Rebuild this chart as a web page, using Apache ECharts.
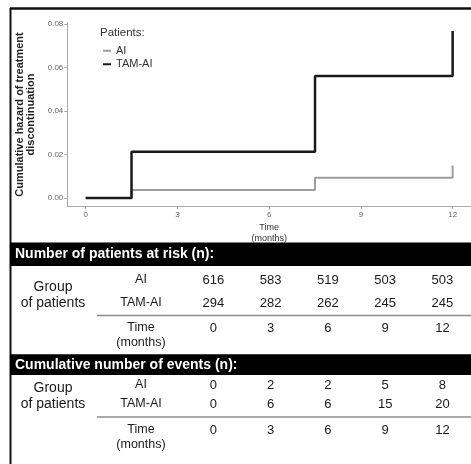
<!DOCTYPE html>
<html><head><meta charset="utf-8">
<script src="https://cdn.jsdelivr.net/npm/echarts@6/dist/echarts.min.js"></script>
<style>html,body{margin:0;padding:0;background:#fff}#c{width:471px;height:464px}</style>
</head><body><div id="c"></div>
<script>
// Chart data (cumulative hazard step functions)
const timePoints = [0, 1.5, 7.5, 12];
const hazardAI = [0, 0.0037, 0.0093, 0.0149];
const hazardTAM = [0, 0.0213, 0.0561, 0.0768];
const xTicks = [0, 3, 6, 9, 12];
const yTicks = [0, 0.02, 0.04, 0.06, 0.08];
// Table data
const groups = ['AI', 'TAM-AI'];
const tableTimes = ['0', '3', '6', '9', '12'];
const riskAI = [616, 583, 519, 503, 503];
const riskTAM = [294, 282, 262, 245, 245];
const eventsAI = [0, 2, 2, 5, 8];
const eventsTAM = [0, 6, 6, 15, 20];

const FONT = "'Liberation Sans', Arial, sans-serif";
const chart = echarts.init(document.getElementById('c'), null, {renderer: 'canvas'});

function tableSeries(idx, rowA, rowB) {
  const data = [];
  rowA.forEach((v, i) => data.push([i, 0, v]));
  rowB.forEach((v, i) => data.push([i, 1, v]));
  return {
    type: 'scatter', xAxisIndex: idx, yAxisIndex: idx, data: data,
    symbolSize: 2, itemStyle: {color: '#fff', opacity: 1}, silent: true, z: 1,
    label: {show: true, position: 'inside', formatter: p => String(p.value[2]),
      fontFamily: FONT, fontSize: 13, color: '#1a1a1a', opacity: 1,
      textBorderWidth: 0, textBorderColor: 'transparent'}
  };
}
function tableX(idx, margin) {
  return {type: 'category', gridIndex: idx, data: tableTimes, boundaryGap: true,
    axisLine: {show: false}, axisTick: {show: false}, splitLine: {show: false},
    axisLabel: {fontFamily: FONT, fontSize: 13, color: '#1a1a1a', margin: margin}};
}
function tableY(idx) {
  return {type: 'category', gridIndex: idx, data: groups, inverse: true,
    axisLine: {show: false}, axisTick: {show: false}, splitLine: {show: false},
    axisLabel: {fontFamily: FONT, fontSize: 12.5, color: '#1a1a1a', align: 'center', margin: 43.8}};
}

const option = {
  animation: false,
  backgroundColor: '#fff',
  grid: [
    {left: 67.3, right: -7.7, top: 22.7, height: 183.6},
    {left: 184.8, right: 0, top: 268.5, height: 46},
    {left: 184.8, right: 0, top: 375.5, height: 38}
  ],
  legend: {
    left: 98, top: 40, orient: 'vertical', itemGap: 2,
    itemWidth: 8, itemHeight: 2, icon: 'rect',
    data: ['AI', 'TAM-AI'],
    textStyle: {fontFamily: FONT, fontSize: 11, color: '#333', lineHeight: 11.5}
  },
  xAxis: [
    {type: 'value', gridIndex: 0, min: -0.6, max: 12.6,
      axisLine: {show: true, onZero: false, lineStyle: {color: '#aaa', width: 1}},
      axisTick: {show: true, length: 3, customValues: xTicks, lineStyle: {color: '#aaa'}},
      axisLabel: {customValues: xTicks, fontFamily: FONT, fontSize: 8, color: '#666', margin: 4},
      splitLine: {show: false},
      name: 'Time\n(months)', nameLocation: 'middle', nameGap: 16,
      nameTextStyle: {fontFamily: FONT, fontSize: 9, color: '#333', lineHeight: 11, verticalAlign: 'top'}},
    tableX(1, 7), tableX(2, 10)
  ],
  yAxis: [
    {type: 'value', gridIndex: 0, min: -0.0038, max: 0.0806,
      axisLine: {show: true, onZero: false, lineStyle: {color: '#aaa', width: 1}},
      axisTick: {show: true, length: 3, customValues: yTicks, lineStyle: {color: '#aaa'}},
      axisLabel: {customValues: yTicks, formatter: v => v.toFixed(2), fontFamily: FONT, fontSize: 8, color: '#666', margin: 4},
      splitLine: {show: false},
      name: 'Cumulative hazard of treatment\ndiscontinuation', nameLocation: 'middle', nameGap: 28, nameRotate: 90,
      nameTextStyle: {fontFamily: FONT, fontSize: 11, fontWeight: 'bold', color: '#222', lineHeight: 11}},
    tableY(1), tableY(2)
  ],
  series: [
    {name: 'AI', type: 'line', step: 'end', symbol: 'none', xAxisIndex: 0, yAxisIndex: 0,
      data: timePoints.map((t, i) => [t, hazardAI[i]]),
      lineStyle: {color: '#9e9e9e', width: 2}, itemStyle: {color: '#9e9e9e'}},
    {name: 'TAM-AI', type: 'line', step: 'end', symbol: 'none', xAxisIndex: 0, yAxisIndex: 0,
      data: timePoints.map((t, i) => [t, hazardTAM[i]]),
      lineStyle: {color: '#1a1a1a', width: 2.5}, itemStyle: {color: '#1a1a1a'}},
    tableSeries(1, riskAI, riskTAM),
    tableSeries(2, eventsAI, eventsTAM)
  ],
  graphic: [
    {type: 'text', left: 100, top: 27, style: {text: 'Patients:', fontFamily: FONT, fontSize: 11.5, fill: '#333'}},
    // frame
    {type: 'line', shape: {x1: 10.5, y1: 8, x2: 10.5, y2: 464}, style: {stroke: '#111', lineWidth: 2}},
    {type: 'line', shape: {x1: 10, y1: 8.5, x2: 471, y2: 8.5}, style: {stroke: '#111', lineWidth: 2.5}},
    // banners
    {type: 'rect', shape: {x: 10, y: 242.5, width: 461, height: 23.5}, style: {fill: '#000'}},
    {type: 'text', x: 15, y: 254.5, style: {text: 'Number of patients at risk (n):', fontFamily: FONT, fontSize: 14, fontWeight: 'bold', fill: '#fff', verticalAlign: 'middle'}},
    {type: 'rect', shape: {x: 10, y: 354.3, width: 461, height: 20.7}, style: {fill: '#000'}},
    {type: 'text', x: 15, y: 364.8, style: {text: 'Cumulative number of events (n):', fontFamily: FONT, fontSize: 14, fontWeight: 'bold', fill: '#fff', verticalAlign: 'middle'}},
    // separators
    {type: 'line', shape: {x1: 97, y1: 315.5, x2: 471, y2: 315.5}, style: {stroke: '#8c8c8c', lineWidth: 1.5}},
    {type: 'line', shape: {x1: 97, y1: 417, x2: 471, y2: 417}, style: {stroke: '#8c8c8c', lineWidth: 1.5}},
    // row group labels
    {type: 'text', x: 53, y: 295, style: {text: 'Group\nof patients', fontFamily: FONT, fontSize: 14, fill: '#1a1a1a', align: 'center', verticalAlign: 'middle', lineHeight: 16}},
    {type: 'text', x: 53, y: 396, style: {text: 'Group\nof patients', fontFamily: FONT, fontSize: 14, fill: '#1a1a1a', align: 'center', verticalAlign: 'middle', lineHeight: 16}},
    {type: 'text', x: 141, y: 320.5, style: {text: 'Time\n(months)', fontFamily: FONT, fontSize: 12.5, fill: '#1a1a1a', align: 'center', verticalAlign: 'top', lineHeight: 15}},
    {type: 'text', x: 141, y: 422.5, style: {text: 'Time\n(months)', fontFamily: FONT, fontSize: 12.5, fill: '#1a1a1a', align: 'center', verticalAlign: 'top', lineHeight: 15}}
  ]
};
chart.setOption(option);
</script></body></html>
